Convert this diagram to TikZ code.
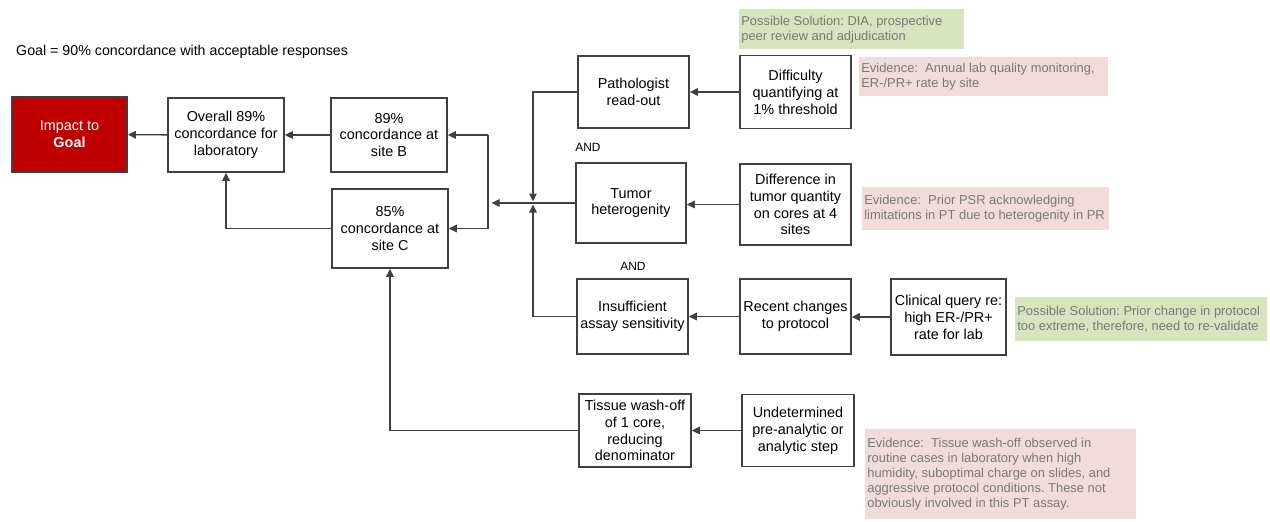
\documentclass[tikz,border=0pt]{standalone}
\usepackage{fontspec}
\setmainfont{Liberation Sans}
\usepackage{xcolor}
\usetikzlibrary{arrows.meta, positioning}
\definecolor{goalRed}{RGB}{192,0,0}
\definecolor{lineGray}{RGB}{64,64,64}
\definecolor{noteText}{RGB}{120,120,120}
\definecolor{solGreen}{RGB}{215,228,189}
\definecolor{evidPink}{RGB}{242,220,219}
\frenchspacing

\begin{document}
\begin{tikzpicture}[
    x=0.02cm, y=-0.02cm,
    cause/.style={draw=lineGray, line width=0.95pt, fill=white, minimum width=2.22cm, minimum height=1.48cm, inner sep=1pt, align=center, font=\fontsize{8.2}{9.6}\selectfont},
    note/.style={anchor=north west, inner sep=0pt, inner xsep=0.04cm, align=flush left, text=noteText, font=\fontsize{7.35}{8.6}\selectfont},
    andlabel/.style={font=\fontsize{6.8}{8}\selectfont},
    arrow/.style={-{Triangle[length=1.6mm, width=1.5mm]}, line width=0.8pt, color=lineGray}
]
\useasboundingbox (0,0) rectangle (1270,521);

\node[anchor=west, font=\fontsize{8.1}{9.6}\selectfont] (goal) at (10,52) {Goal = 90\% concordance with acceptable responses};

\node[cause, fill=goalRed, text=white, minimum width=2.3cm, minimum height=1.5cm] (impact) at (69.5,134.5) {Impact to\\\textbf{Goal}};
\node[cause, minimum width=2.32cm] (overall) at (226,135) {Overall 89\%\\concordance for\\laboratory};
\node[cause, minimum width=2.32cm] (siteB) at (389,135) {89\%\\concordance at\\site B};
\node[cause, minimum width=2.32cm, minimum height=1.58cm] (siteC) at (390,228.5) {85\%\\concordance at\\site C};

\node[cause, minimum height=1.44cm] (patho) at (633.5,92) {Pathologist\\read-out};
\node[cause, minimum height=1.46cm] (diffic) at (795.5,92) {Difficulty\\quantifying at\\1\% threshold};
\node[cause, minimum width=2.2cm, minimum height=1.6cm] (tumor) at (631,203) {Tumor\\heterogenity};
\node[cause, minimum height=1.62cm] (differ) at (795.5,204.5) {Difference in\\tumor quantity\\on cores at 4\\sites};
\node[cause, minimum height=1.5cm] (insuff) at (632.5,316.5) {Insufficient\\assay sensitivity};
\node[cause, minimum height=1.5cm] (recent) at (795.5,316.5) {Recent changes\\to protocol};
\node[cause, minimum width=2.3cm, minimum height=1.52cm] (clinic) at (948.5,317) {Clinical query re:\\high ER-/PR+\\rate for lab};
\node[cause, minimum width=2.24cm, minimum height=1.46cm] (tissue) at (635,430.5) {Tissue wash-off\\of 1 core,\\reducing\\denominator};
\node[cause, minimum width=2.24cm, minimum height=1.44cm] (undet) at (798,430.5) {Undetermined\\pre-analytic or\\analytic step};

\node[andlabel] (and1) at (588,147) {AND};
\node[andlabel] (and2) at (633,266) {AND};

\node[note, fill=solGreen, text width=4.42cm, minimum height=0.8cm] (sol1) at (739,9) {Possible Solution: DIA, prospective\\peer review and adjudication};
\node[note, fill=evidPink, text width=4.9cm, minimum height=0.78cm] (ev1) at (859,57) {Evidence:\ \ Annual lab quality monitoring,\\ER-/PR+ rate by site};
\node[note, fill=evidPink, text width=4.86cm, minimum height=0.86cm] (ev2) at (862,187) {Evidence:\ \ Prior PSR acknowledging\\limitations in PT due to heterogenity in PR};
\node[note, fill=solGreen, text width=4.96cm, minimum height=0.88cm] (sol2) at (1015,297) {Possible Solution: Prior change in protocol\\too extreme, therefore, need to re-validate};
\node[note, fill=evidPink, text width=5.34cm, minimum height=1.8cm] (ev3) at (865,429) {Evidence:\ \ Tissue wash-off observed in\\routine cases in laboratory when high\\humidity, suboptimal charge on slides, and\\aggressive protocol conditions. These not\\obviously involved in this PT assay.};

\coordinate (join) at (533,203);
\coordinate (brtop) at (488,135);
\coordinate (brbot) at (488,228.5);

\draw[arrow] (overall) -- (impact);
\draw[arrow] (siteB) -- (overall);
\draw[arrow] (siteC.west) -| (overall.south);
\draw[line width=0.8pt, color=lineGray] (brtop) -- (brbot);
\draw[arrow] (brtop) -- (siteB.east);
\draw[arrow] (brbot) -- (siteC.east);
\draw[arrow, shorten >=0.07cm] (tumor.west) -- (join -| brtop);
\draw[arrow, shorten >=0.03cm] (patho.west) -| (join);
\draw[arrow, shorten >=0.03cm] (insuff.west) -| (join);
\draw[arrow] (diffic.west) -- (diffic.west -| patho.east);
\draw[arrow] (differ.west) -- (differ.west -| tumor.east);
\draw[arrow] (recent) -- (insuff);
\draw[arrow] (clinic.west) -- (clinic.west -| recent.east);
\draw[arrow] (undet.west) -- (undet.west -| tissue.east);
\draw[arrow] (tissue.west) -| (siteC.south);
\end{tikzpicture}
\end{document}
